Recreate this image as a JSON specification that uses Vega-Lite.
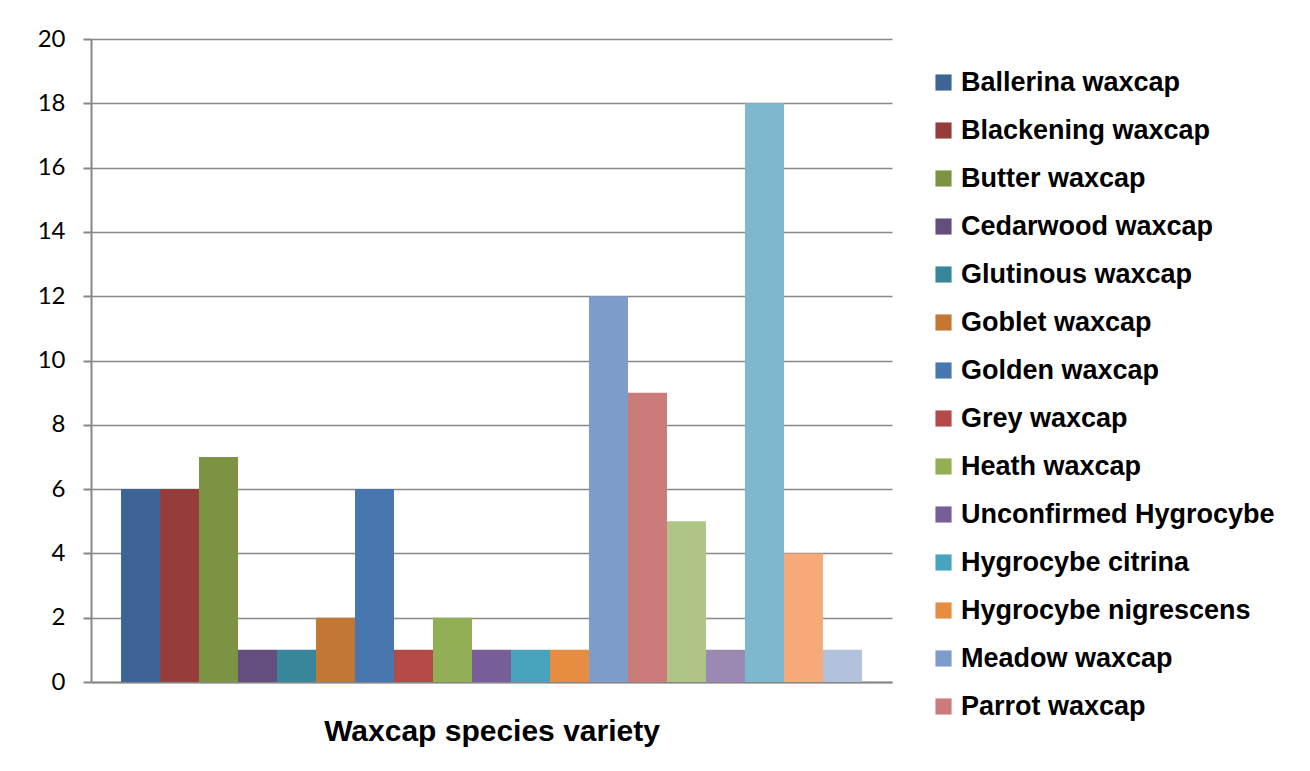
{
  "$schema": "https://vega.github.io/schema/vega-lite/v6.json",
  "width": 801,
  "height": 643,
  "autosize": "none",
  "padding": {"left": 91, "top": 39, "right": 418, "bottom": 89},
  "background": "white",
  "config": {"view": {"stroke": null}},
  "data": {
    "values": [
      {"species": "Ballerina waxcap", "count": 6},
      {"species": "Blackening waxcap", "count": 6},
      {"species": "Butter waxcap", "count": 7},
      {"species": "Cedarwood waxcap", "count": 1},
      {"species": "Glutinous waxcap", "count": 1},
      {"species": "Goblet waxcap", "count": 2},
      {"species": "Golden waxcap", "count": 6},
      {"species": "Grey waxcap", "count": 1},
      {"species": "Heath waxcap", "count": 2},
      {"species": "Unconfirmed Hygrocybe", "count": 1},
      {"species": "Hygrocybe citrina", "count": 1},
      {"species": "Hygrocybe nigrescens", "count": 1},
      {"species": "Meadow waxcap", "count": 12},
      {"species": "Parrot waxcap", "count": 9},
      {"species": "Scarlet waxcap", "count": 5},
      {"species": "Slimy waxcap", "count": 1},
      {"species": "Snowy waxcap", "count": 18},
      {"species": "Spangle waxcap", "count": 4},
      {"species": "Vermilion waxcap", "count": 1}
    ]
  },
  "mark": {"type": "bar"},
  "encoding": {
    "x": {
      "field": "species",
      "type": "nominal",
      "sort": null,
      "scale": {"paddingInner": 0, "paddingOuter": 0.77},
      "axis": {
        "labels": false,
        "ticks": false,
        "domainColor": "#878787",
        "domainWidth": 2,
        "title": "Waxcap species variety",
        "titleFont": "Liberation Sans",
        "titleFontSize": 30,
        "titleFontWeight": "bold",
        "titleColor": "black",
        "titlePadding": 34
      }
    },
    "y": {
      "field": "count",
      "type": "quantitative",
      "scale": {"domain": [0, 20], "nice": false},
      "axis": {
        "values": [0, 2, 4, 6, 8, 10, 12, 14, 16, 18, 20],
        "title": null,
        "grid": true,
        "gridColor": "#888888",
        "gridWidth": 1.5,
        "domainColor": "#878787",
        "domainWidth": 2,
        "tickColor": "#878787",
        "tickSize": 8,
        "tickWidth": 2,
        "labelFont": "Lato",
        "labelFontSize": 24,
        "labelColor": "black",
        "labelPadding": 18
      }
    },
    "color": {
      "field": "species",
      "type": "nominal",
      "sort": null,
      "scale": {
        "domain": ["Ballerina waxcap", "Blackening waxcap", "Butter waxcap", "Cedarwood waxcap", "Glutinous waxcap", "Goblet waxcap", "Golden waxcap", "Grey waxcap", "Heath waxcap", "Unconfirmed Hygrocybe", "Hygrocybe citrina", "Hygrocybe nigrescens", "Meadow waxcap", "Parrot waxcap", "Scarlet waxcap", "Slimy waxcap", "Snowy waxcap", "Spangle waxcap", "Vermilion waxcap"],
        "range": ["#3C6494", "#963C3B", "#7B9343", "#634E7D", "#37869A", "#C37735", "#4877B0", "#B34A48", "#93AF55", "#785E98", "#48A3BC", "#E78D41", "#7E9CC9", "#CA7B7A", "#AEC585", "#9C89B3", "#7EB8CF", "#F6AA79", "#B3C2DC"]
      },
      "legend": {
        "values": ["Ballerina waxcap", "Blackening waxcap", "Butter waxcap", "Cedarwood waxcap", "Glutinous waxcap", "Goblet waxcap", "Golden waxcap", "Grey waxcap", "Heath waxcap", "Unconfirmed Hygrocybe", "Hygrocybe citrina", "Hygrocybe nigrescens", "Meadow waxcap", "Parrot waxcap"],
        "title": null,
        "orient": "none",
        "legendX": 839,
        "legendY": 30,
        "padding": 0,
        "symbolType": "square",
        "symbolSize": 260,
        "symbolStrokeWidth": 0,
        "labelFont": "Liberation Sans",
        "labelFontSize": 27,
        "labelFontWeight": "bold",
        "labelColor": "black",
        "labelOffset": 4,
        "labelLimit": 400,
        "rowPadding": 20
      }
    }
  }
}
